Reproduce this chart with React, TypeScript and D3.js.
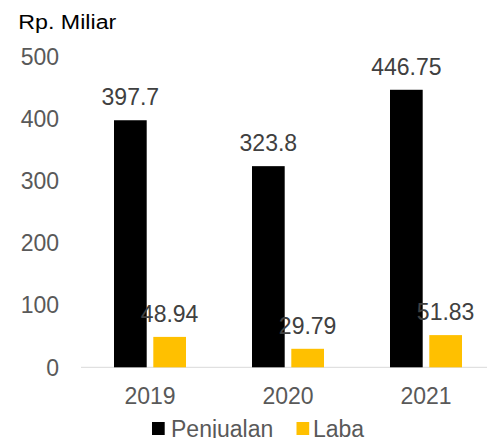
import { useEffect, useRef } from 'react'
import * as d3 from 'd3'

const years = ['2019', '2020', '2021']
const penjualan = [397.7, 323.8, 446.75]
const laba = [48.94, 29.79, 51.83]
const yTicks = [0, 100, 200, 300, 400, 500]
const seriesNames = ['Penjualan', 'Laba']
const colors = ['#000000', '#FFC000']

export default function App() {
  const ref = useRef<SVGSVGElement>(null)

  useEffect(() => {
    const width = 487,
      height = 438,
      left = 81,
      right = 495,
      top = 56.7,
      bottom = 367.3

    const svg = d3.select(ref.current)
    svg.selectAll('*').remove()
    svg.attr('width', width).attr('height', height)

    const x = d3.scaleBand().domain(years).range([left, right])
    const y = d3.scaleLinear().domain([0, 500]).range([bottom, top])
    const barW = 32.7
    const gap = 6.6

    const font = "'Liberation Sans', Arial, sans-serif"

    svg
      .append('text')
      .attr('x', 18.3)
      .attr('y', 29)
      .attr('font-family', font)
      .attr('font-size', 20)
      .attr('fill', '#000')
      .attr('textLength', 98)
      .attr('lengthAdjust', 'spacingAndGlyphs')
      .text('Rp. Miliar')

    // y tick labels
    svg
      .selectAll('.ytick')
      .data(yTicks)
      .enter()
      .append('text')
      .attr('x', 59)
      .attr('y', (d) => y(d) + 8.2)
      .attr('text-anchor', 'end')
      .attr('font-family', font)
      .attr('font-size', 23)
      .attr('fill', '#595959')
      .text((d) => d)

    // baseline
    svg
      .append('line')
      .attr('x1', left)
      .attr('x2', width)
      .attr('y1', y(0))
      .attr('y2', y(0))
      .attr('stroke', '#d9d9d9')
      .attr('stroke-width', 1)

    const series = [penjualan, laba]
    series.forEach((vals, si) => {
      const off = si === 0 ? -gap / 2 - barW : gap / 2
      const g = svg.append('g')
      g.selectAll('rect')
        .data(vals)
        .enter()
        .append('rect')
        .attr('x', (_, i) => x(years[i])! + x.bandwidth() / 2 + off)
        .attr('y', (d) => y(d))
        .attr('width', barW)
        .attr('height', (d) => y(0) - y(d))
        .attr('fill', colors[si])
      g.selectAll('text')
        .data(vals)
        .enter()
        .append('text')
        .attr('x', (_, i) => x(years[i])! + x.bandwidth() / 2 + off + barW / 2)
        .attr('y', (d) => y(d) - 15)
        .attr('text-anchor', 'middle')
        .attr('font-family', font)
        .attr('font-size', 23)
        .attr('fill', '#404040')
        .text((d) => d)
    })

    // x labels
    svg
      .selectAll('.xlab')
      .data(years)
      .enter()
      .append('text')
      .attr('x', (d) => x(d)! + x.bandwidth() / 2)
      .attr('y', 404.3)
      .attr('text-anchor', 'middle')
      .attr('font-family', font)
      .attr('font-size', 23)
      .attr('fill', '#595959')
      .text((d) => d)

    // legend
    const legendX = [152, 296.5]
    const legendTextX = [171, 313]
    seriesNames.forEach((name, i) => {
      svg
        .append('rect')
        .attr('x', legendX[i])
        .attr('y', 422)
        .attr('width', 12.7)
        .attr('height', 13)
        .attr('fill', colors[i])
      svg
        .append('text')
        .attr('x', legendTextX[i])
        .attr('y', 437)
        .attr('font-family', font)
        .attr('font-size', 23)
        .attr('fill', '#595959')
        .text(name)
    })
  }, [])

  return (
    <svg
      ref={ref}
      style={{ position: 'absolute', left: 0, top: 0, display: 'block' }}
    />
  )
}
